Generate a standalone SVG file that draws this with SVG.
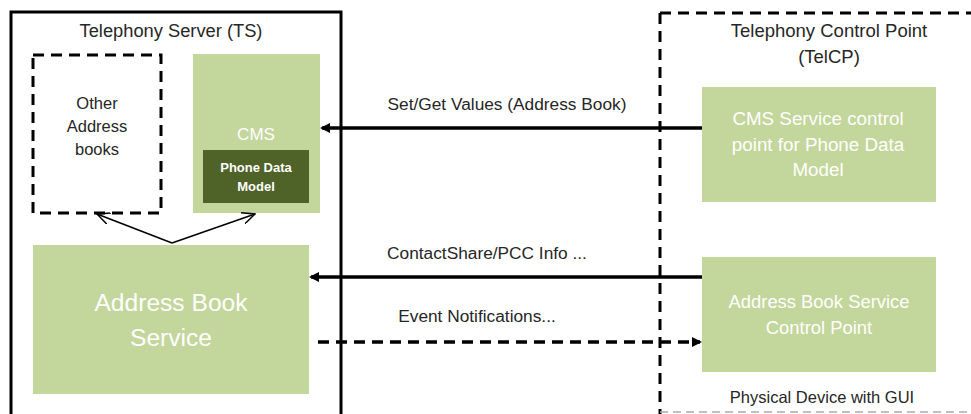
<svg xmlns="http://www.w3.org/2000/svg" width="971" height="414" viewBox="0 0 971 414">
<style>
.t{font-family:"Liberation Sans",Arial,sans-serif;fill:#262626;text-anchor:middle}
.w{font-family:"Liberation Sans",Arial,sans-serif;fill:#ffffff;text-anchor:middle}
.g{fill:#c3d69b}
.thick{stroke:#000;stroke-width:3.5;fill:none}
</style>
<defs>
<marker id="ah" markerWidth="10" markerHeight="10" refX="8" refY="5" orient="auto" markerUnits="userSpaceOnUse">
<path d="M0,0 L10,5 L0,10 Z" fill="#000"/>
</marker>
<marker id="open" markerWidth="14" markerHeight="12" refX="13" refY="6" orient="auto" markerUnits="userSpaceOnUse">
<path d="M0,0 L13,6 L0,12" fill="none" stroke="#000" stroke-width="1.5"/>
</marker>
</defs>
<rect width="971" height="414" fill="#fff"/>
<g id="ts">
<rect x="11" y="12" width="330" height="420" fill="none" stroke="#000" stroke-width="3"/>
<text class="t" x="171" y="37" font-size="18.3">Telephony Server (TS)</text>
</g>
<g id="telcp">
<path d="M660,13 H971" stroke="#000" stroke-width="3" stroke-dasharray="11,7" fill="none"/>
<path d="M660,13 V414" stroke="#000" stroke-width="3" stroke-dasharray="11,7" fill="none"/>
<path d="M660,412 H971" stroke="#aaa" stroke-width="1.5" stroke-dasharray="8,5" fill="none"/>
<text class="t" x="829" y="37" font-size="18.5">Telephony Control Point</text>
<text class="t" x="829" y="63" font-size="18.5">(TelCP)</text>
<text class="t" x="822" y="403" font-size="16.5">Physical Device with GUI</text>
</g>
<g id="other">
<rect x="33" y="55" width="128" height="158" fill="none" stroke="#000" stroke-width="3" stroke-dasharray="11,7"/>
<text class="t" x="97" y="109" font-size="16.5">Other</text>
<text class="t" x="97" y="132" font-size="16.5">Address</text>
<text class="t" x="97" y="155" font-size="16.5">books</text>
</g>
<g id="cms">
<rect class="g" x="193" y="54" width="127" height="159"/>
<text class="w" x="256" y="140" font-size="17">CMS</text>
</g>
<g id="pdm">
<rect x="203" y="150" width="106" height="53" fill="#4f6228"/>
<text class="w" x="256" y="172" font-size="13" font-weight="bold">Phone Data</text>
<text class="w" x="256" y="191" font-size="13" font-weight="bold">Model</text>
</g>
<g id="abs">
<rect class="g" x="33" y="245" width="276" height="149"/>
<text class="w" x="171" y="311" font-size="24.6">Address Book</text>
<text class="w" x="171" y="346" font-size="24.6">Service</text>
</g>
<g id="cmscp">
<rect class="g" x="702" y="87" width="234" height="115"/>
<text class="w" x="818" y="125" font-size="18.8">CMS Service control</text>
<text class="w" x="818" y="151" font-size="18.8">point for Phone Data</text>
<text class="w" x="818" y="176" font-size="18.8">Model</text>
</g>
<g id="abscp">
<rect class="g" x="702" y="257" width="234" height="115"/>
<text class="w" x="819" y="308" font-size="18.4">Address Book Service</text>
<text class="w" x="819" y="334" font-size="18.4">Control Point</text>
</g>
<g id="connectors">
<path d="M172,243 L97,214" stroke="#000" stroke-width="1.5" fill="none" marker-end="url(#open)"/>
<path d="M172,243 L255,214" stroke="#000" stroke-width="1.5" fill="none" marker-end="url(#open)"/>
<path d="M702,128 H322" class="thick" marker-end="url(#ah)"/>
<path d="M702,277 H311" class="thick" marker-end="url(#ah)"/>
<path d="M318,342 H700" class="thick" stroke-dasharray="11,7" marker-end="url(#ah)"/>
<text class="t" x="507" y="110" font-size="17.3">Set/Get Values (Address Book)</text>
<text class="t" x="487" y="259" font-size="17.3">ContactShare/PCC Info ...</text>
<text class="t" x="477" y="322" font-size="17.3">Event Notifications...</text>
</g>
</svg>
